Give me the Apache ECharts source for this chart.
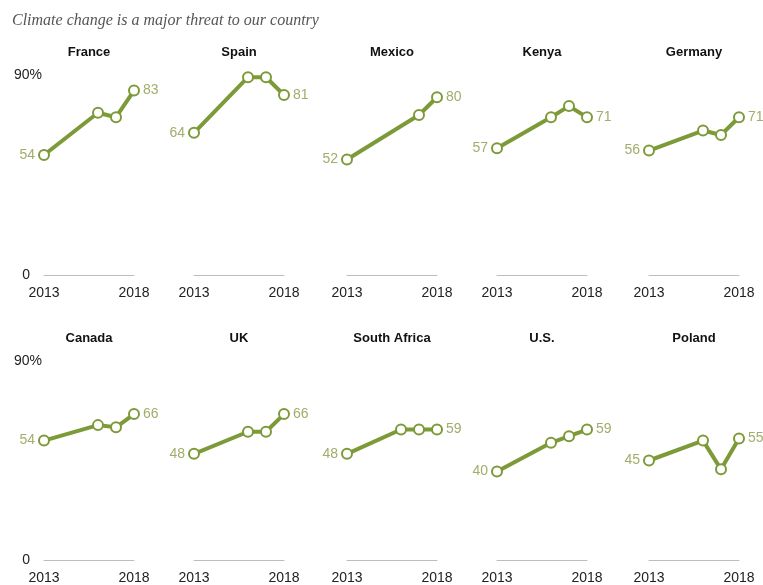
<!DOCTYPE html>
<html>
<head>
<meta charset="utf-8">
<script src="https://cdn.jsdelivr.net/npm/echarts@6/dist/echarts.min.js"></script>
<style>
  html, body { margin: 0; padding: 0; background: #fff; }
  #chart { width: 763px; height: 585px; }
</style>
</head>
<body>
<div id="chart"></div>
<script>
// survey years
var years4 = [2013, 2016, 2017, 2018]
var years3 = [2013, 2017, 2018]

// % saying climate change is a major threat
var france = [54, 73, 71, 83]
var spain = [64, 89, 89, 81]
var mexico = [52, 72, 80]
var kenya = [57, 71, 76, 71]
var germany = [56, 65, 63, 71]
var canada = [54, 61, 60, 66]
var uk = [48, 58, 58, 66]
var southAfrica = [48, 59, 59, 59]
var us = [40, 53, 56, 59]
var poland = [45, 54, 41, 55]

var countries = ['France', 'Spain', 'Mexico', 'Kenya', 'Germany',
  'Canada', 'UK', 'South Africa', 'U.S.', 'Poland']
var values = [france, spain, mexico, kenya, germany, canada, uk, southAfrica, us, poland]
var yearsOf = [years4, years4, years3, years4, years4, years4, years4, years4, years4, years4]

var yTicks = [0, 90]

var green = '#7d9a38'
var labelGreen = '#a2ad6c'
var font = 'Liberation Sans, Arial, sans-serif'
var colLeft = [44, 194, 347, 497, 649]
var gridW = 90
var rowTop = [75, 361]
var rowH = [200, 199]

var chart = echarts.init(document.getElementById('chart'))

var grids = []
var xAxes = []
var yAxes = []
var series = []
var graphics = [{
  type: 'text',
  left: 12,
  top: 13,
  style: {
    text: 'Climate change is a major threat to our country',
    font: 'italic 16px "Liberation Serif", serif',
    fill: '#555'
  }
}]

countries.forEach(function (name, i) {
  var row = Math.floor(i / 5)
  var col = i % 5
  grids.push({ left: colLeft[col], top: rowTop[row], width: gridW, height: rowH[row] })
  xAxes.push({
    gridIndex: i,
    type: 'value',
    min: 2013,
    max: 2018,
    interval: 5,
    axisLine: { show: true, lineStyle: { color: '#bdbdbd', width: 1 } },
    axisTick: { show: false },
    splitLine: { show: false },
    axisLabel: {
      color: '#222',
      fontSize: 14,
      fontFamily: font,
      margin: 11,
      formatter: function (v) { return String(v) }
    }
  })
  yAxes.push({
    gridIndex: i,
    type: 'value',
    min: yTicks[0],
    max: yTicks[1],
    interval: 90,
    axisLine: { show: false },
    axisTick: { show: false },
    splitLine: { show: false },
    axisLabel: {
      show: col === 0,
      margin: 2,
      color: '#222',
      fontSize: 14,
      fontFamily: font,
      formatter: function (v) {
        return v === 90 ? '90%' : '{z|0}'
      },
      rich: {
        z: { padding: [0, 12, 0, 0], fontSize: 14, color: '#222', fontFamily: font }
      }
    }
  })
  var yrs = yearsOf[i]
  var vals = values[i]
  var data = vals.map(function (v, k) {
    var item = { value: [yrs[k], v] }
    if (k === 0) {
      item.label = { show: true, position: 'left' }
    } else if (k === vals.length - 1) {
      item.label = { show: true, position: 'right' }
    }
    return item
  })
  series.push({
    type: 'line',
    name: name,
    xAxisIndex: i,
    yAxisIndex: i,
    data: data,
    symbol: 'emptyCircle',
    symbolSize: 10,
    lineStyle: { color: green, width: 4 },
    itemStyle: { color: green, borderWidth: 2.5 },
    label: {
      show: false,
      color: labelGreen,
      fontSize: 14,
      distance: 3,
      fontFamily: font,
      formatter: function (p) { return p.value[1] }
    },
    animation: false
  })
  graphics.push({
    type: 'text',
    x: colLeft[col] + gridW / 2,
    y: row === 0 ? 52 : 338,
    style: {
      text: name,
      font: 'bold 13px "Liberation Sans", Arial, sans-serif',
      fill: '#111',
      textAlign: 'center',
      textVerticalAlign: 'middle'
    }
  })
})

chart.setOption({
  animation: false,
  grid: grids,
  xAxis: xAxes,
  yAxis: yAxes,
  series: series,
  graphic: graphics
})
</script>
</body>
</html>
